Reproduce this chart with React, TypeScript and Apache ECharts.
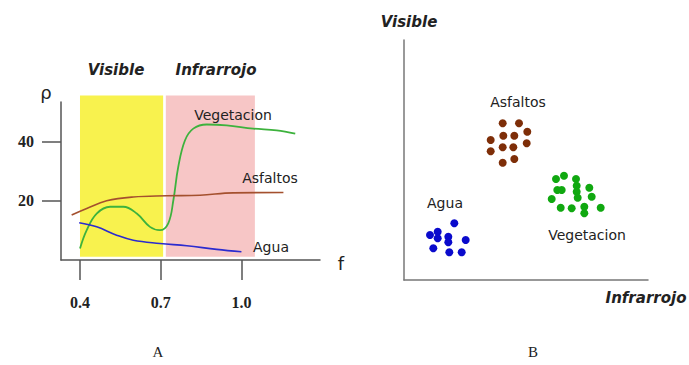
import React, { useEffect, useRef } from "react";
import * as echarts from "echarts";

// ---- Panel A: reflectance curves ----
const xTicks = [0.4, 0.7, 1.0];
const yTicks = [20, 40];
const visibleBand = [0.4, 0.709, 1.1, 55.6];
const infraredBand = [0.719, 1.05, 1.1, 55.6];

const vegetacion: [number, number][] = [
  [0.4, 3.9], [0.425, 10.1], [0.462, 15.7], [0.512, 18.0], [0.561, 18.0],
  [0.611, 15.7], [0.66, 11.2], [0.697, 10.1], [0.728, 12.4], [0.747, 20.2],
  [0.765, 31.4], [0.79, 40.4], [0.821, 44.4], [0.871, 45.8], [0.945, 45.5],
  [1.044, 44.4], [1.131, 43.8], [1.2, 42.7],
];
const asfaltos: [number, number][] = [
  [0.369, 15.2], [0.425, 17.4], [0.499, 20.0], [0.598, 21.3], [0.722, 21.7],
  [0.846, 21.9], [0.97, 22.7], [1.156, 22.8],
];
const agua: [number, number][] = [
  [0.397, 12.6], [0.462, 11.2], [0.536, 8.4], [0.598, 6.7], [0.697, 5.6],
  [0.797, 4.8], [0.908, 3.6], [1.0, 2.8],
];

// ---- Panel B: scatter clusters (visible vs infrared) ----
const asfaltosPts: [number, number][] = [
  [98.7, 156.7], [115, 156.7], [123.3, 148.3], [99.3, 144.3], [110.3, 144.3],
  [86.7, 140], [122.7, 136.7], [98.7, 132.7], [109.3, 132.7], [86.7, 128.7],
  [110.3, 121], [98.7, 117.3],
];
const vegetacionPts: [number, number][] = [
  [152, 101], [160, 104.3], [172, 101], [172.7, 94.3], [153.3, 90], [157.7, 90],
  [172.7, 88.3], [185.3, 92.3], [187.7, 83.3], [147.7, 81], [173.7, 82.3],
  [156.7, 72.3], [167.7, 71.7], [180.3, 73.3], [196.7, 72.3], [180.3, 66.7],
];
const aguaPts: [number, number][] = [
  [50.3, 56.7], [26, 45], [33.7, 48.3], [33.7, 41.7], [44.3, 43.3],
  [44.3, 37.7], [61.7, 40], [29.3, 31.7], [45.3, 27.7], [57.7, 27.7],
];

const SANS = "DejaVu Sans";
const SERIF = "Liberation Serif";

function bandSeries(band: number[], color: string) {
  return {
    type: "custom",
    xAxisIndex: 0,
    yAxisIndex: 0,
    z: 1,
    silent: true,
    encode: { x: [0, 1], y: [2, 3] },
    data: [band],
    renderItem: (params: any, api: any) => {
      const p1 = api.coord([api.value(0), api.value(3)]);
      const p2 = api.coord([api.value(1), api.value(2)]);
      return {
        type: "rect",
        shape: { x: p1[0], y: p1[1], width: p2[0] - p1[0], height: p2[1] - p1[1] },
        style: { fill: color },
      };
    },
  };
}

export default function App() {
  const ref = useRef<HTMLDivElement>(null);
  useEffect(() => {
    if (!ref.current) return;
    const chart = echarts.init(ref.current, null, { renderer: "svg" });
    const axisColor = "#555";
    const labelText = (text: string, x: number, y: number, opts: any = {}) => ({
      type: "text",
      x,
      y,
      z: 100,
      style: {
        text,
        fill: "#222",
        font: opts.font || `14px "${SANS}"`,
        align: opts.align || "center",
        verticalAlign: "middle",
      },
    });
    const titleFont = `italic bold 15px "${SANS}"`;
    chart.setOption({
      animation: false,
      backgroundColor: "#fff",
      grid: [
        { left: 61, top: 102, right: 369, bottom: 105 },
        { left: 404, top: 40, right: 41, bottom: 85 },
      ],
      xAxis: [
        {
          type: "value",
          gridIndex: 0,
          min: 0.3294,
          max: 1.292,
          splitLine: { show: false },
          axisLine: { lineStyle: { color: axisColor, width: 1.5 } },
          axisTick: { customValues: xTicks, length: 20, lineStyle: { color: axisColor, width: 1.5 } },
          axisLabel: {
            customValues: xTicks,
            formatter: (v: number) => v.toFixed(1),
            margin: 34,
            color: "#222",
            fontFamily: SERIF,
            fontWeight: "bold",
            fontSize: 16,
          },
        },
        {
          type: "value",
          gridIndex: 1,
          min: 0,
          max: 244,
          splitLine: { show: false },
          axisLine: { lineStyle: { color: "#777", width: 1.5 } },
          axisTick: { show: false },
          axisLabel: { show: false },
        },
      ],
      yAxis: [
        {
          type: "value",
          gridIndex: 0,
          min: 0,
          max: 53.4,
          splitLine: { show: false },
          axisLine: { show: true, lineStyle: { color: axisColor, width: 1.5 } },
          axisTick: { show: true, customValues: yTicks, length: 19, lineStyle: { color: axisColor, width: 1.5 } },
          axisLabel: {
            customValues: yTicks,
            margin: 27,
            color: "#222",
            fontFamily: SERIF,
            fontWeight: "bold",
            fontSize: 16,
          },
        },
        {
          type: "value",
          gridIndex: 1,
          min: 0,
          max: 240,
          splitLine: { show: false },
          axisLine: { show: true, lineStyle: { color: "#777", width: 1.5 } },
          axisTick: { show: false },
          axisLabel: { show: false },
        },
      ],
      series: [
        bandSeries(visibleBand, "#F8F24E"),
        bandSeries(infraredBand, "#F7C6C6"),
        {
          name: "Vegetacion",
          type: "line",
          xAxisIndex: 0,
          yAxisIndex: 0,
          z: 3,
          smooth: 0.4,
          symbol: "none",
          data: vegetacion,
          lineStyle: { color: "#3DB23D", width: 1.8 },
        },
        {
          name: "Asfaltos",
          type: "line",
          xAxisIndex: 0,
          yAxisIndex: 0,
          z: 3,
          smooth: 0.4,
          symbol: "none",
          data: asfaltos,
          lineStyle: { color: "#A4502E", width: 1.6 },
        },
        {
          name: "Agua",
          type: "line",
          xAxisIndex: 0,
          yAxisIndex: 0,
          z: 3,
          smooth: 0.4,
          symbol: "none",
          data: agua,
          lineStyle: { color: "#2B2BCF", width: 1.6 },
        },
        {
          name: "Asfaltos B",
          type: "scatter",
          xAxisIndex: 1,
          yAxisIndex: 1,
          symbolSize: 8,
          data: asfaltosPts,
          itemStyle: { color: "#7E2E08", opacity: 1 },
        },
        {
          name: "Vegetacion B",
          type: "scatter",
          xAxisIndex: 1,
          yAxisIndex: 1,
          symbolSize: 8,
          data: vegetacionPts,
          itemStyle: { color: "#10A810", opacity: 1 },
        },
        {
          name: "Agua B",
          type: "scatter",
          xAxisIndex: 1,
          yAxisIndex: 1,
          symbolSize: 8,
          data: aguaPts,
          itemStyle: { color: "#0A0ACC", opacity: 1 },
        },
      ],
      graphic: [
        labelText("Visible", 116, 70, { font: titleFont }),
        labelText("Infrarrojo", 216, 70, { font: titleFont }),
        labelText("ρ", 46, 92, { font: `18px "${SANS}"` }),
        labelText("f", 341, 263, { font: `18px "${SANS}"` }),
        labelText("Vegetacion", 233, 115),
        labelText("Asfaltos", 270, 178),
        labelText("Agua", 271, 247),
        labelText("A", 158, 352, { font: `15px "${SERIF}"` }),
        labelText("B", 533, 352, { font: `15px "${SERIF}"` }),
        labelText("Visible", 409, 22, { font: titleFont }),
        labelText("Infrarrojo", 646, 298, { font: titleFont }),
        labelText("Asfaltos", 518, 102),
        labelText("Agua", 445, 203),
        labelText("Vegetacion", 587, 235),
      ],
    });
    return () => chart.dispose();
  }, []);
  return (
    <div
      ref={ref}
      style={{ position: "fixed", left: 0, top: 0, width: 689, height: 365 }}
    />
  );
}
